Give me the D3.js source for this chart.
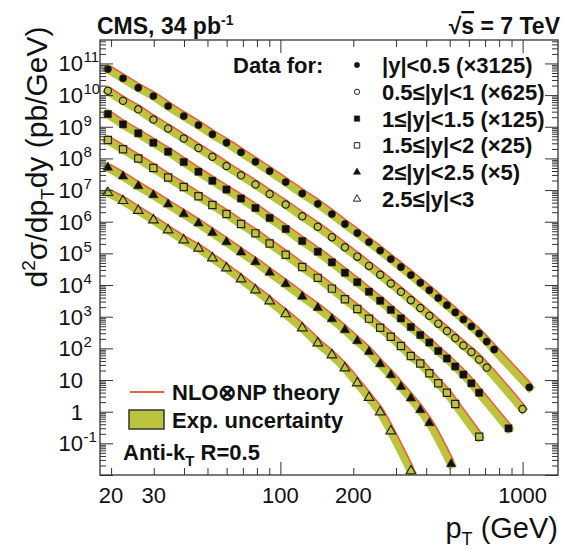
<!DOCTYPE html>
<html>
<head>
<meta charset="utf-8">
<script src="https://cdn.jsdelivr.net/npm/d3@7/dist/d3.min.js"></script>
<style>
  body { margin: 0; background: #fff; }
  svg text { font-family: "Liberation Sans", Arial, Helvetica, sans-serif; fill: #111; }
</style>
</head>
<body>
<svg id="chart" width="565" height="550"></svg>
<script>
// pT bin centres (GeV), shared by all rapidity bins
const ptCenters = [19.4, 22.4, 25.9, 29.9, 34.4, 39.9, 45.9, 52.4, 59.9, 68.8, 78.9, 90.3,
  105.2, 123.1, 142.7, 163.2, 184.7, 207.7, 232.2, 258.2, 285.7, 314.6, 345.6, 378.1,
  412.1, 448.6, 487.1, 527.1, 569.6, 614.6, 661.6, 711.1, 763.0];
// centre of the last (wide) bin of each rapidity range
const lastPt = [1066, 999, 875, 662, 507, 346];

// d2sigma/dpT dy (pb/GeV), already multiplied by the scale factor
const rap00 = [6.65e10, 3.38e10, 1.71e10, 9.3e9, 4.5e9, 2.18e9, 1.13e9, 5.76e8, 3.13e8, 1.56e8,
  7.85e7, 3.99e7, 1.79e7, 7.78e6, 3.67e6, 1.75e6, 8.46e5, 4.4e5, 2.28e5, 1.23e5, 6.63e4,
  3.71e4, 2.07e4, 1.18e4, 6.86e3, 3.92e3, 2.31e3, 1.37e3, 820, 493, 296, 164, 91.9, 5.88];
const rap05 = [1.37e10, 6.64e9, 3.55e9, 1.69e9, 8.79e8, 4.25e8, 2.13e8, 1.13e8, 5.74e7, 2.92e7,
  1.5e7, 7.5e6, 3.49e6, 1.49e6, 6.95e5, 3.26e5, 1.55e5, 7.9e4, 4.02e4, 2.12e4, 1.12e4,
  6.11e3, 3.34e3, 1.88e3, 1.07e3, 604, 353, 212, 123, 76.6, 44.4, 24.8, 1.21];
const rap10 = [2.52e9, 1.19e9, 6.2e8, 3.13e8, 1.63e8, 7.69e7, 3.79e7, 1.97e7, 1.04e7, 5.41e6,
  2.71e6, 1.31e6, 5.88e5, 2.46e5, 1.13e5, 5.22e4, 2.45e4, 1.23e4, 6.15e3, 3.2e3, 1.65e3,
  883, 472, 264, 153, 82.4, 47.8, 26.7, 14.9, 7.87, 3.97, 0.298];
const rap15 = [3.81e8, 1.94e8, 9.9e7, 4.97e7, 2.49e7, 1.25e7, 6.38e6, 3.37e6, 1.75e6, 8.46e5,
  4.3e5, 2.05e5, 9.08e4, 3.73e4, 1.69e4, 7.71e3, 3.57e3, 1.76e3, 869, 449, 233, 119, 57.3,
  33.2, 16.3, 7.87, 3.97, 1.75, 0.162];
const rap20 = [5.15e7, 2.72e7, 1.34e7, 6.97e6, 3.55e6, 1.75e6, 8.9e5, 4.5e5, 2.28e5, 1.08e5,
  5.37e4, 2.5e4, 1.08e4, 4.34e3, 1.91e3, 845, 380, 171, 78.3, 32, 14.4, 6.14, 2.64, 1.13,
  0.438, 0.0222];
const rap25 = [8.24e6, 4.6e6, 2.26e6, 1.13e6, 5.47e5, 2.64e5, 1.45e5, 7.13e4, 3.45e4, 1.55e4,
  6.96e3, 3.13e3, 1.22e3, 439, 147, 61.6, 23.9, 8.04, 2.8, 0.976, 0.245, 0.0134];

const rapValues = [rap00, rap05, rap10, rap15, rap20, rap25];
const rapLabels = ["|y|<0.5 (\u00d73125)", "0.5\u2264|y|<1 (\u00d7625)", "1\u2264|y|<1.5 (\u00d7125)",
  "1.5\u2264|y|<2 (\u00d725)", "2\u2264|y|<2.5 (\u00d75)", "2.5\u2264|y|<3"];
const markers = [
  { sym: d3.symbolCircle, filled: true },
  { sym: d3.symbolCircle, filled: false },
  { sym: d3.symbolSquare, filled: true },
  { sym: d3.symbolSquare, filled: false },
  { sym: d3.symbolTriangle, filled: true },
  { sym: d3.symbolTriangle, filled: false }
];
const xTickLabels = [20, 30, 100, 200, 1000];
const yTickExps = [-1, 0, 1, 2, 3, 4, 5, 6, 7, 8, 9, 10, 11];

const bandColor = '#bcc43e';
const theoryColor = '#f0603c';
const axisColor = '#333';

const svg = d3.select('#chart');
const plotLeft = 100, plotRight = 558, plotTop = 40, plotBottom = 475;

const x = d3.scaleLog().domain([18, 1400]).range([plotLeft, plotRight]);
const y = d3.scaleLog().domain([1e-2, 5.5e11]).range([plotBottom, plotTop]);

const series = rapValues.map((vals, i) => vals.map((v, j) => ({
  pt: j < vals.length - 1 ? ptCenters[j] : lastPt[i],
  v: v
})));

svg.append('clipPath').attr('id', 'plotclip')
  .append('rect').attr('x', plotLeft).attr('y', plotTop)
  .attr('width', plotRight - plotLeft).attr('height', plotBottom - plotTop);

const plot = svg.append('g').attr('clip-path', 'url(#plotclip)');

const line = d3.line()
  .x(d => x(d.pt))
  .y(d => y(d.v))
  .curve(d3.curveMonotoneX);

// uncertainty bands
series.forEach(s => {
  plot.append('path').datum(s)
    .attr('fill', 'none')
    .attr('stroke', bandColor)
    .attr('stroke-width', 8.5)
    .attr('stroke-linecap', 'square')
    .attr('d', line);
});

// theory curves, sitting on the upper edge of the band
series.forEach(s => {
  plot.append('path').datum(s)
    .attr('fill', 'none')
    .attr('stroke', theoryColor)
    .attr('stroke-width', 1.6)
    .attr('transform', 'translate(2.5,-3)')
    .attr('d', line);
});

// data points
series.forEach((s, i) => {
  const m = markers[i];
  const size = m.sym === d3.symbolCircle ? 42 : (m.sym === d3.symbolSquare ? 52 : 40);
  plot.selectAll(null)
    .data(s)
    .enter()
    .append('path')
    .attr('transform', d => `translate(${x(d.pt)},${y(d.v)})`)
    .attr('d', d3.symbol().type(m.sym).size(size))
    .attr('fill', m.filled ? '#111' : 'none')
    .attr('stroke', '#222')
    .attr('stroke-width', m.filled ? 0.5 : 1.2);
});

// axes (ticks drawn inwards, ROOT style)
const majorX = [100, 1000];
const minorX = [];
[10, 100, 1000].forEach(dec => {
  for (let k = 2; k <= 9; k++) {
    const v = k * dec;
    if (v > 18 && v < 1400) minorX.push(v);
  }
});
const majorY = [];
const minorY = [];
for (let e = -2; e <= 11; e++) {
  majorY.push(Math.pow(10, e));
  for (let k = 2; k <= 9; k++) {
    const v = k * Math.pow(10, e);
    if (v < 5.5e11) minorY.push(v);
  }
}

function styleAxis(g) {
  g.select('.domain').remove();
  g.selectAll('line').attr('stroke', axisColor).attr('stroke-width', 1);
  g.selectAll('text').remove();
}

svg.append('g').attr('transform', `translate(0,${plotBottom})`)
  .call(d3.axisBottom(x).tickValues(majorX).tickSize(-13)).call(styleAxis);
svg.append('g').attr('transform', `translate(0,${plotBottom})`)
  .call(d3.axisBottom(x).tickValues(minorX).tickSize(-7)).call(styleAxis);
svg.append('g').attr('transform', `translate(0,${plotTop})`)
  .call(d3.axisTop(x).tickValues(majorX).tickSize(-13)).call(styleAxis);
svg.append('g').attr('transform', `translate(0,${plotTop})`)
  .call(d3.axisTop(x).tickValues(minorX).tickSize(-7)).call(styleAxis);

svg.append('g').attr('transform', `translate(${plotLeft},0)`)
  .call(d3.axisLeft(y).tickValues(majorY).tickSize(-13)).call(styleAxis);
svg.append('g').attr('transform', `translate(${plotLeft},0)`)
  .call(d3.axisLeft(y).tickValues(minorY).tickSize(-6)).call(styleAxis);
svg.append('g').attr('transform', `translate(${plotRight},0)`)
  .call(d3.axisRight(y).tickValues(majorY).tickSize(-13)).call(styleAxis);
svg.append('g').attr('transform', `translate(${plotRight},0)`)
  .call(d3.axisRight(y).tickValues(minorY).tickSize(-6)).call(styleAxis);

svg.append('rect')
  .attr('x', plotLeft).attr('y', plotTop)
  .attr('width', plotRight - plotLeft).attr('height', plotBottom - plotTop)
  .attr('fill', 'none').attr('stroke', axisColor).attr('stroke-width', 1.3);

// x tick labels
svg.selectAll('.xlab')
  .data(xTickLabels)
  .enter()
  .append('text')
  .attr('x', d => x(d))
  .attr('y', 503)
  .attr('text-anchor', 'middle')
  .attr('font-size', 22)
  .text(d => d);

// y tick labels: base right-aligned, exponent as superscript
yTickExps.forEach(e => {
  const yy = y(Math.pow(10, e));
  if (e === 0 || e === 1) {
    svg.append('text').attr('x', 83).attr('y', yy + 8)
      .attr('text-anchor', 'end').attr('font-size', 22)
      .text(e === 0 ? '1' : '10');
  } else {
    svg.append('text').attr('x', 83).attr('y', yy + 8)
      .attr('text-anchor', 'end').attr('font-size', 22).text('10');
    svg.append('text').attr('x', 83.5).attr('y', yy - 1)
      .attr('text-anchor', 'start').attr('font-size', 15).text(e);
  }
});

// axis titles
const yTitle = svg.append('text')
  .attr('transform', 'translate(47,157) rotate(-90)')
  .attr('text-anchor', 'middle')
  .attr('font-size', 30);
yTitle.append('tspan').text('d');
yTitle.append('tspan').attr('font-size', 19).attr('dy', -12).text('2');
yTitle.append('tspan').attr('dy', 12).text('\u03c3/dp');
yTitle.append('tspan').attr('font-size', 19).attr('dy', 7).text('T');
yTitle.append('tspan').attr('dy', -7).text('dy (pb/GeV)');

const xTitle = svg.append('text')
  .attr('x', 558).attr('y', 538)
  .attr('text-anchor', 'end')
  .attr('font-size', 29);
xTitle.append('tspan').text('p');
xTitle.append('tspan').attr('font-size', 18).attr('dy', 7).text('T');
xTitle.append('tspan').attr('dy', -7).text(' (GeV)');

// header
const cms = svg.append('text').attr('x', 97).attr('y', 34)
  .attr('font-size', 23).attr('font-weight', 'bold');
cms.append('tspan').text('CMS, 34 pb');
cms.append('tspan').attr('font-size', 14).attr('dy', -9).text('-1');

const sqrts = svg.append('text').attr('x', 560).attr('y', 34)
  .attr('text-anchor', 'end')
  .attr('font-size', 23).attr('font-weight', 'bold');
sqrts.append('tspan').text('\u221a');
sqrts.append('tspan').style('text-decoration', 'overline').text('s');
sqrts.append('tspan').text(' = 7 TeV');

// rapidity legend
svg.append('text').attr('x', 233).attr('y', 73)
  .attr('font-size', 22).attr('font-weight', 'bold').text('Data for:');

rapLabels.forEach((lab, i) => {
  const ly = 65 + 26.8 * i;
  const m = markers[i];
  const size = m.sym === d3.symbolCircle ? 22 : (m.sym === d3.symbolSquare ? 30 : 24);
  svg.append('path')
    .attr('transform', `translate(357,${ly})`)
    .attr('d', d3.symbol().type(m.sym).size(size))
    .attr('fill', m.filled ? '#111' : 'none')
    .attr('stroke', '#222')
    .attr('stroke-width', m.filled ? 0.5 : 1);
  svg.append('text').attr('x', 382).attr('y', ly + 8)
    .attr('font-size', 22).attr('font-weight', 'bold').text(lab);
});

// theory / uncertainty legend
svg.append('line')
  .attr('x1', 130).attr('x2', 164).attr('y1', 392).attr('y2', 392)
  .attr('stroke', theoryColor).attr('stroke-width', 1.8);
svg.append('text').attr('x', 172).attr('y', 400)
  .attr('font-size', 22).attr('font-weight', 'bold').text('NLO\u2297NP theory');
svg.append('rect')
  .attr('x', 129).attr('y', 410).attr('width', 35).attr('height', 19)
  .attr('fill', bandColor).attr('stroke', '#333').attr('stroke-width', 1.5);
svg.append('text').attr('x', 172).attr('y', 428)
  .attr('font-size', 22).attr('font-weight', 'bold').text('Exp. uncertainty');

const antikt = svg.append('text').attr('x', 123).attr('y', 460)
  .attr('font-size', 22).attr('font-weight', 'bold');
antikt.append('tspan').text('Anti-k');
antikt.append('tspan').attr('font-size', 15).attr('dy', 6).text('T');
antikt.append('tspan').attr('dy', -6).text(' R=0.5');
</script>
</body>
</html>
